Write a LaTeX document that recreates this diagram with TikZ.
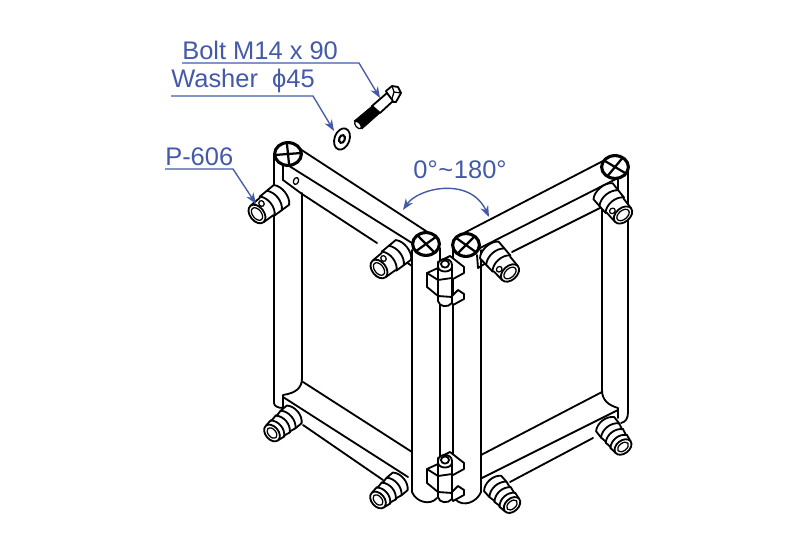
\documentclass[tikz,border=0pt]{standalone}
\usepackage{fontspec}
\setmainfont{Liberation Sans}
\usetikzlibrary{arrows.meta,calc}
\definecolor{labelblue}{RGB}{68,90,168}
\tikzset{
    part/.style={line width=1.3pt,line join=round,line cap=round},
    thinpart/.style={line width=.9pt,line join=round},
    partlabel/.style={labelblue,font=\fontsize{18.1pt}{20pt}\selectfont,inner xsep=0pt,inner ysep=.07cm},
    leader/.style={labelblue,line width=.95pt,-{Stealth[length=8pt,width=6pt]}},
    swing/.style={labelblue,line width=1pt,{Stealth[length=8pt,width=6pt]}-{Stealth[length=8pt,width=6pt]}},
    pics/crosscap/.style={code={
        \draw[fill=white,line width=2.2pt] (0,0) ellipse [x radius=13.4, y radius=11.4];
        \draw[line width=1.6pt] ({13.4*cos(#1)},{-11.4*sin(#1)}) -- ({-13.4*cos(#1)},{11.4*sin(#1)})
            ({13.4*sin(#1)},{11.4*cos(#1)}) -- ({-13.4*sin(#1)},{-11.4*cos(#1)});
    }},
    pconn/.pic={
        \draw[part,fill=white] (0,-10.5) -- (12,-11) -- (13,-12) -- (31,-12.5) .. controls (37,-7) and (37,7) .. (31,12.5) -- (13,12) -- (12,11) -- (0,10.5) -- cycle;
        \draw[part] (13,-12) .. controls (19,-6) and (19,6) .. (13,12);
        \draw[part] (22,-12.3) .. controls (28,-6) and (28,6) .. (22,12.3);
        \draw[part,fill=white] (0,0) ellipse [x radius=7, y radius=10.5];
        \draw[thinpart] (0,0) ellipse [x radius=4.4, y radius=7.2];
        \draw[thinpart,fill=white] (10,-5.5) ellipse [x radius=2.6, y radius=3];
    },
    barbconn/.pic={
        \draw[part,fill=white] (0,-9.5) -- (7,-10.5) -- (8,-9.8) -- (14,-11) -- (15,-10.3) -- (21,-11.5) -- (29,-11.5)
            .. controls (35,-6) and (35,6) .. (29,11.5) -- (21,11.5) -- (15,10.3) -- (14,11) -- (8,9.8) -- (7,10.5) -- (0,9.5) -- cycle;
        \foreach \bandx/\bandr in {7/10.5,14/11,21/11.5} {
            \draw[part] (\bandx,-\bandr) .. controls (\bandx+6,-.5*\bandr) and (\bandx+6,.5*\bandr) .. (\bandx,\bandr);
        }
        \draw[part,fill=white] (0,0) ellipse [x radius=6.5, y radius=9.5];
        \draw[thinpart] (0,0) ellipse [x radius=3.8, y radius=6.2];
    },
    hingeblock/.pic={
        % upper plate
        \draw[part,fill=white] (-7,-3) -- (5,-9) -- (19,2) -- (19,8) -- (8,14) -- (-7,14) -- cycle;
        % lower plate
        \draw[part,fill=white] (5,33) -- (13,25) -- (19,29) -- (19,34) -- (8,40) -- cycle;
        % barrel
        \draw[part,fill=white] (-7,0) -- (-7,36) .. controls (-6,42) and (3,43) .. (7,38) -- (7,0) .. controls (7,-8) and (-7,-8) .. (-7,0);
        \draw[part] (-7,2) .. controls (-6,8) and (6,8) .. (7,2);
        \draw[part,fill=white] (0,-1) ellipse [x radius=4, y radius=3.6];
        % front block
        \draw[part,fill=white] (-18,8) -- (-18,22) -- (-7,31) -- (-7,15) -- cycle;
        \draw[part] (-18,8) -- (-7,3);
        \draw[part] (-7,15) -- (7,13) (-7,31) -- (7,32);
    },
}
\begin{document}
\begin{tikzpicture}[x=.025cm,y=-.025cm]
    \useasboundingbox (0,0) rectangle (800,557);

    % left frame
    \draw[part] (297,147) -- (429,233)
        (286,164) -- (412,243)
        (283,165) -- (283,180) -- (302,194) -- (377,243)
        (274,155) -- (274,403) .. controls (274,406) and (278,408) .. (283,408) -- (283,395)
        (302,193) -- (302,378) .. controls (302,388) and (296,393) .. (283,395)
        (303,382) -- (412,452)
        (283,397) -- (408,477)
        (303,425) -- (383,480)
        (403,260) -- (412,266);

    % right frame
    \draw[part] (464,233) -- (603,161)
        (480,248) -- (618,178) -- (618,190)
        (512,252) -- (602,207) -- (602,390) .. controls (602,400) and (608,405) .. (618,408) -- (618,418)
        (628,170) -- (628,412) .. controls (628,418) and (626,422) .. (621,423)
        (602,392) -- (481,455)
        (618,410) -- (482,478)
        (593,438) -- (510,482)
        (477,255) -- (478,268) -- (486,263);

    % centre posts
    \draw[part] (412,250) -- (412,492) .. controls (416,502) and (430,506) .. (437,498)
        (440,248) -- (440,460)
        (453,250) -- (453,460)
        (481,250) -- (481,492) .. controls (477,502) and (463,508) .. (455,499);

    % hinges
    \pic at (445,265) {hingeblock};
    \pic at (445,461) {hingeblock};

    % connectors
    \pic[rotate=38] at (257,214) {pconn};
    \pic[rotate=38] at (379,269) {pconn};
    \pic[rotate=132] at (510,273) {pconn};
    \pic[rotate=130] at (623,215) {pconn};
    \pic[rotate=40] at (272,433) {barbconn};
    \pic[rotate=40] at (378,500) {barbconn};
    \pic[rotate=132] at (512,505) {barbconn};
    \pic[rotate=128] at (623,447) {barbconn};

    % caps
    \pic at (288,154) {crosscap=5};
    \pic at (426,244) {crosscap=40};
    \pic at (466,245) {crosscap=50};
    \pic at (615,167) {crosscap=55};
    \draw[thinpart,rotate around={-20:(296,181)}] (296,181) ellipse [x radius=2.5, y radius=3.5];

    % bolt and washer
    \draw[part,fill=white] (386,91) -- (392,86) -- (398,87) -- (401,93) -- (396,102) -- (391,102) -- cycle;
    \draw[thinpart] (392,86) -- (394,92) -- (401,93) (394,92) -- (391,102);
    \draw[part,fill=white] (372,106) -- (387,93) -- (393,101) -- (380,113) -- cycle;
    \draw[fill=black] (354,121) -- (372,106) -- (380,113) -- (362,129) -- cycle;
    \draw[fill=white,thinpart,rotate around={-50:(358,125)}] (358,125) ellipse [x radius=4.4, y radius=2.4];
    \draw[part,fill=white,rotate around={-20:(342,139)}] (342,139) ellipse [x radius=7.5, y radius=11];
    \draw[line width=1.5pt,rotate around={-20:(342,139)}] (342,139) ellipse [x radius=2.8, y radius=4];

    % labels
    \node[partlabel,anchor=south west] (boltlabel) at (182,63) {Bolt M14 x 90};
    \node[partlabel,anchor=south west] (washerlabel) at (171,96) {Washer \;ϕ45};
    \node[partlabel,anchor=south west] (pconnlabel) at (165,169) {P-606};
    \node[partlabel,anchor=base] (anglelabel) at (460,179) {0°\hspace{.5pt}\symbol{126}\hspace{.5pt}180°};

    \coordinate (boltknee) at (359,63);
    \coordinate (bolttip) at (380,98);
    \coordinate (washerknee) at (313,96);
    \coordinate (washertip) at (334,131);
    \coordinate (pconnknee) at (233,169);
    \coordinate (pconntip) at (256,204);
    \coordinate (swingleft) at (403,210);
    \coordinate (swingright) at (489,217);

    \draw[leader] (boltlabel.south west) -- (boltknee) -- (bolttip);
    \draw[leader] (washerlabel.south west) -- (washerknee) -- (washertip);
    \draw[leader] (pconnlabel.south west) -- (pconnknee) -- (pconntip);
    \draw[swing] (swingleft) .. controls (418,188) and (470,176) .. (swingright);
\end{tikzpicture}
\end{document}
